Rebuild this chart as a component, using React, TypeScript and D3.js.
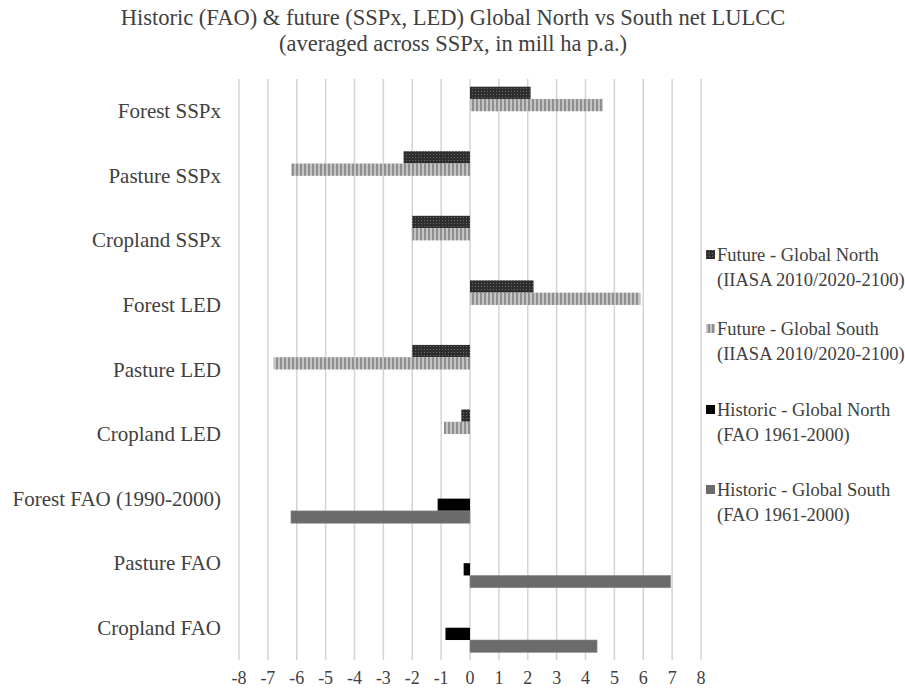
import React from 'react';
import { scaleLinear, scaleBand, range } from 'd3';

const categories = [
  'Forest SSPx', 'Pasture SSPx', 'Cropland SSPx',
  'Forest LED', 'Pasture LED', 'Cropland LED',
  'Forest FAO (1990-2000)', 'Pasture FAO', 'Cropland FAO',
];

const futureNorth = [2.1, -2.3, -2.0, 2.2, -2.0, -0.3, null, null, null];
const futureSouth = [4.6, -6.2, -2.0, 5.9, -6.8, -0.9, null, null, null];
const historicNorth = [null, null, null, null, null, null, -1.12, -0.22, -0.85];
const historicSouth = [null, null, null, null, null, null, -6.2, 6.95, 4.4];

const seriesNames = ['fn', 'fs', 'hn', 'hs'];
const legendLines = [
  ['Future - Global North', '(IIASA 2010/2020-2100)'],
  ['Future - Global South', '(IIASA 2010/2020-2100)'],
  ['Historic - Global North', '(FAO 1961-2000)'],
  ['Historic - Global South', '(FAO 1961-2000)'],
];
const ticks = range(-8, 9, 1);

const W = 905;
const H = 691;
const FONT = '"Liberation Serif", "Times New Roman", serif';
const TXT = '#404040';

export default function App() {
  const allSeries = [futureNorth, futureSouth, historicNorth, historicSouth];
  const fills = ['url(#pNorthF)', 'url(#pSouthF)', '#000000', '#6b6b6b'];

  const x = scaleLinear().domain([-8, 8]).range([239, 701]);
  const y = scaleBand<string>().domain(categories).range([79, 660]);
  const inner = scaleBand<string>()
    .domain(seriesNames)
    .range([0, y.bandwidth()])
    .paddingOuter(0.625);

  const legendY = [255, 329, 410, 490];

  return (
    <svg width={W} height={H} style={{ position: 'absolute', left: 0, top: 0, background: '#fff' }}
      fontFamily={FONT}>
      <defs>
        <pattern id="pNorthF" width="3" height="3" patternUnits="userSpaceOnUse">
          <rect width="3" height="3" fill="#2e2e2e" />
          <rect x="1" y="1" width="1" height="1" fill="#6a6a6a" />
        </pattern>
        <pattern id="pSouthF" width="4" height="4" patternUnits="userSpaceOnUse">
          <rect width="4" height="4" fill="#c4c4c4" />
          <rect x="0" width="2" height="4" fill="#8f8f8f" />
        </pattern>
      </defs>
      <rect width={W} height={H} fill="#fff" />

      <text x={453} y={25} textAnchor="middle" fontSize={22.5} fill={TXT}>
        Historic (FAO) &amp; future (SSPx, LED) Global North vs South net LULCC
      </text>
      <text x={453} y={51} textAnchor="middle" fontSize={22.5} fill={TXT}>
        (averaged across SSPx, in mill ha p.a.)
      </text>

      {ticks.map(t => (
        <g key={t}>
          <line x1={x(t)} x2={x(t)} y1={79} y2={660} stroke="#d4d4d4" strokeWidth={1.5} />
          <text x={x(t)} y={684} textAnchor="middle" fontSize={18} fill={TXT}>{t}</text>
        </g>
      ))}

      {categories.map(c => (
        <text key={c} x={221} y={(y(c) ?? 0) + y.bandwidth() / 2 + 7} textAnchor="end"
          fontSize={21} fill={TXT}>{c}</text>
      ))}

      {allSeries.map((vals, si) =>
        vals.map((v, ci) => {
          if (v === null) return null;
          const c = categories[ci];
          const yy = (y(c) ?? 0) + (inner(seriesNames[si]) ?? 0);
          const x0 = x(Math.min(0, v));
          const x1 = x(Math.max(0, v));
          return (
            <rect key={si + '-' + ci} x={x0} y={yy} width={x1 - x0} height={inner.bandwidth()}
              fill={fills[si]} stroke={si === 3 ? '#8a8a8a' : 'none'} strokeWidth={0.6} />
          );
        })
      )}

      {legendLines.map((lines, i) => (
        <g key={i}>
          <rect x={706} y={legendY[i] - 5} width={9} height={9} fill={fills[i]} />
          <text x={717} y={legendY[i] + 6} fontSize={18.5} fill={TXT}>{lines[0]}</text>
          <text x={717} y={legendY[i] + 31} fontSize={18.5} fill={TXT}>{lines[1]}</text>
        </g>
      ))}
    </svg>
  );
}
